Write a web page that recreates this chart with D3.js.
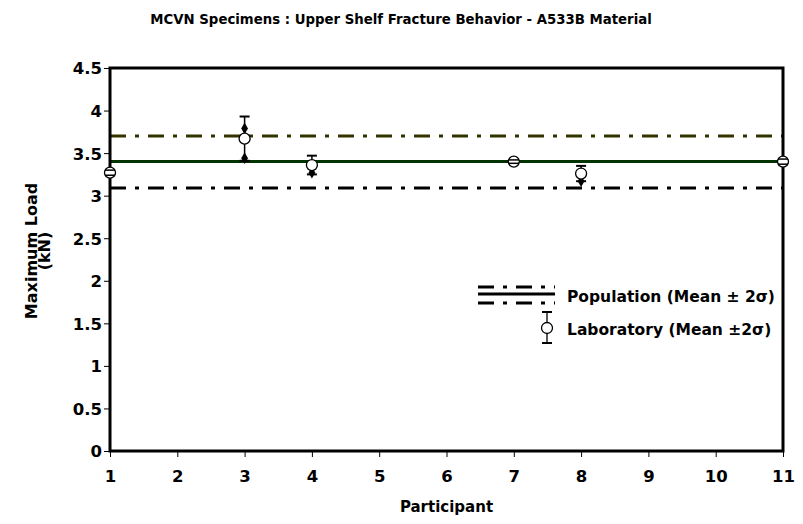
<!DOCTYPE html>
<html>
<head>
<meta charset="utf-8">
<script src="https://cdn.jsdelivr.net/npm/d3@7/dist/d3.min.js"></script>
<style>
  body { margin: 0; background: #fff; }
  text { font-family: "DejaVu Sans", Arial, sans-serif; font-weight: bold; fill: #000; }
</style>
</head>
<body>
<svg id="chart" width="803" height="524"></svg>
<script>
// values
var participants = [1, 3, 4, 7, 8, 11];
var labMean      = [3.27, 3.67, 3.36, 3.40, 3.26, 3.40];
var labTwoSigma  = [0.03, 0.26, 0.11, 0.02, 0.09, 0.03];

// small black points seen near some laboratory means
var extraP = [3, 3, 4, 8];
var extraV = [3.79, 3.44, 3.27, 3.17];

var popMean  = 3.40;
var popUpper = 3.70;
var popLower = 3.09;

var xTicks = [1, 2, 3, 4, 5, 6, 7, 8, 9, 10, 11];
var yTicks = [0, 0.5, 1, 1.5, 2, 2.5, 3, 3.5, 4, 4.5];

var svg = d3.select("#chart");

var x = d3.scaleLinear().domain([1, 11]).range([110, 783]);
var y = d3.scaleLinear().domain([0, 4.5]).range([451, 68]);

// title
svg.append("text")
    .attr("x", 401)
    .attr("y", 24)
    .attr("text-anchor", "middle")
    .style("font-size", "13.3px")
    .text("MCVN Specimens : Upper Shelf Fracture Behavior - A533B Material");

// axes
var yAxis = d3.axisLeft(y).tickValues(yTicks).tickSize(6).tickFormat(d3.format("~g"));
var gy = svg.append("g").attr("transform", "translate(" + x(1) + ",0)").call(yAxis);
gy.select(".domain").remove();
gy.selectAll("text").attr("x", -8).attr("dy", "0.36em").style("font-size", "16.5px");

var xAxis = d3.axisBottom(x).tickValues(xTicks).tickSize(6).tickFormat(d3.format("d"));
var gx = svg.append("g").attr("transform", "translate(0," + y(0) + ")").call(xAxis);
gx.select(".domain").remove();
gx.selectAll("text").attr("y", 19).attr("dy", "0.72em").style("font-size", "16.5px");

// axis titles
svg.append("text")
    .attr("x", x(6))
    .attr("y", 512)
    .attr("text-anchor", "middle")
    .style("font-size", "15px")
    .text("Participant");

svg.append("text")
    .attr("transform", "translate(37,251) rotate(-90)")
    .attr("text-anchor", "middle")
    .style("font-size", "16px")
    .text("Maximum Load");
svg.append("text")
    .attr("transform", "translate(50,251) rotate(-90)")
    .attr("text-anchor", "middle")
    .style("font-size", "16px")
    .text("(kN)");

// population lines
var dashDot = "16,9,4,9";
var popLines = [
    {v: popUpper, color: "#333300", dash: dashDot},
    {v: popMean,  color: "#003300", dash: null},
    {v: popLower, color: "#000000", dash: dashDot}
];
svg.selectAll(".pop")
    .data(popLines)
    .enter().append("line")
    .attr("class", "pop")
    .attr("x1", x(1)).attr("x2", x(11))
    .attr("y1", function(d) { return y(d.v); })
    .attr("y2", function(d) { return y(d.v); })
    .attr("stroke", function(d) { return d.color; })
    .attr("stroke-width", 3)
    .attr("stroke-dasharray", function(d) { return d.dash; });

// frame (markers sit on top of it)
svg.append("rect")
    .attr("x", x(1)).attr("y", y(4.5))
    .attr("width", x(11) - x(1)).attr("height", y(0) - y(4.5))
    .attr("fill", "none").attr("stroke", "#000").attr("stroke-width", 3);

// laboratory data
var lab = participants.map(function(p, i) {
    return {p: p, m: labMean[i], s: labTwoSigma[i]};
});

svg.selectAll(".extra")
    .data(extraP)
    .enter().append("path")
    .attr("class", "extra")
    .attr("d", d3.symbol().type(d3.symbolDiamond).size(40))
    .attr("transform", function(d, i) { return "translate(" + x(d) + "," + y(extraV[i]) + ")"; })
    .attr("fill", "#000");

var bars = svg.selectAll(".bar").data(lab).enter().append("g").attr("class", "bar");
bars.append("line")
    .attr("x1", function(d) { return x(d.p); })
    .attr("x2", function(d) { return x(d.p); })
    .attr("y1", function(d) { return y(d.m + d.s); })
    .attr("y2", function(d) { return y(d.m - d.s); })
    .attr("stroke", "#000").attr("stroke-width", 1.5);
[1, -1].forEach(function(sign) {
    bars.append("line")
        .attr("x1", function(d) { return x(d.p) - 5; })
        .attr("x2", function(d) { return x(d.p) + 5; })
        .attr("y1", function(d) { return y(d.m + sign * d.s); })
        .attr("y2", function(d) { return y(d.m + sign * d.s); })
        .attr("stroke", "#000").attr("stroke-width", 2);
});

svg.selectAll(".mean")
    .data(lab)
    .enter().append("circle")
    .attr("class", "mean")
    .attr("cx", function(d) { return x(d.p); })
    .attr("cy", function(d) { return y(d.m); })
    .attr("r", 5.5)
    .attr("fill", "#fff")
    .attr("stroke", "#000")
    .attr("stroke-width", 1.3);

// caps that show through the small circles
lab.filter(function(d) { return d.s < 0.05; })
    .forEach(function(d) {
        [1, -1].forEach(function(sign) {
            svg.append("line")
                .attr("x1", x(d.p) - 5).attr("x2", x(d.p) + 5)
                .attr("y1", y(d.m + sign * d.s)).attr("y2", y(d.m + sign * d.s))
                .attr("stroke", "#000").attr("stroke-width", 1.5);
        });
    });

// legend
var lg = svg.append("g");
var legLines = [
    {dy: 287, dash: dashDot},
    {dy: 294, dash: null},
    {dy: 303, dash: dashDot}
];
lg.selectAll("line.leg")
    .data(legLines)
    .enter().append("line")
    .attr("class", "leg")
    .attr("x1", 478).attr("x2", 555)
    .attr("y1", function(d) { return d.dy; })
    .attr("y2", function(d) { return d.dy; })
    .attr("stroke", "#000")
    .attr("stroke-width", 3)
    .attr("stroke-dasharray", function(d) { return d.dash; });
lg.append("text").attr("x", 567).attr("y", 302).style("font-size", "15.5px")
    .text("Population (Mean \u00b1 2\u03c3)");

lg.append("line").attr("x1", 547).attr("x2", 547).attr("y1", 312).attr("y2", 343)
    .attr("stroke", "#000").attr("stroke-width", 1.3);
lg.append("line").attr("x1", 542).attr("x2", 552).attr("y1", 312).attr("y2", 312)
    .attr("stroke", "#000").attr("stroke-width", 2);
lg.append("line").attr("x1", 542).attr("x2", 552).attr("y1", 343).attr("y2", 343)
    .attr("stroke", "#000").attr("stroke-width", 2);
lg.append("circle").attr("cx", 547).attr("cy", 328).attr("r", 5.5)
    .attr("fill", "#fff").attr("stroke", "#000").attr("stroke-width", 1.3);
lg.append("text").attr("x", 567).attr("y", 335).style("font-size", "15.5px")
    .text("Laboratory (Mean \u00b12\u03c3)");
</script>
</body>
</html>
